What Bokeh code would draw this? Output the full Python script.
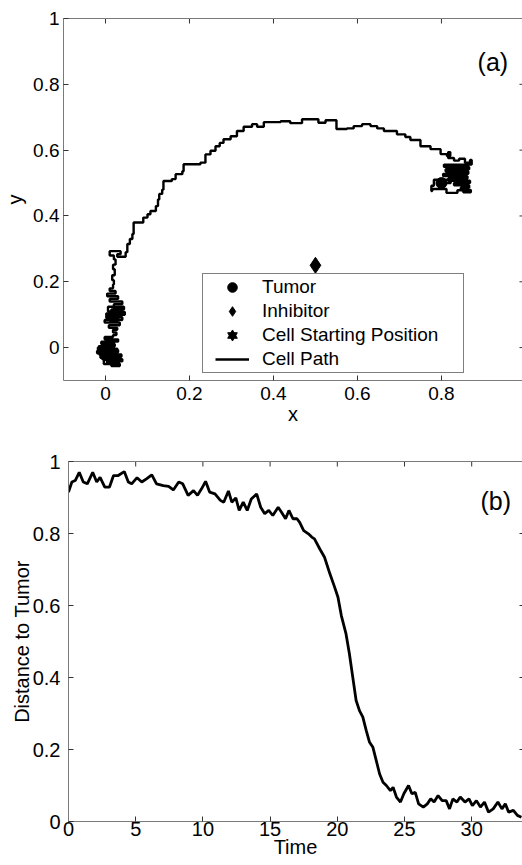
import math
from bokeh.plotting import figure
from bokeh.models import (LinearAxis, Label, Legend, LegendItem, FixedTicker,
                          Range1d)
from bokeh.embed import file_html
from bokeh.resources import INLINE

FONT = "Liberation Sans"

# ---------------- data: panel (a) ----------------
path_x = [0.000, -0.018, 0.030, -0.015, 0.038, -0.008, 0.040, 0.004, 0.034, 0.014,
          -0.004, 0.032, -0.012, 0.024, -0.020, 0.028, -0.016, 0.022, -0.010, 0.030,
          -0.002, 0.018, 0.026, 0.018, 0.028,
          0.008, 0.034, -0.002, 0.040, 0.004, 0.046, 0.014, 0.044, 0.006, 0.036,
          0.010, 0.030, 0.002, 0.040, 0.020, 0.040, 0.010, 0.030, 0.004, 0.024,
          0.010, 0.018,
          0.020, 0.016, 0.022, 0.018, 0.024, 0.020,
          0.010, 0.036, 0.028, 0.048, 0.052,
          0.058, 0.064, 0.067, 0.090, 0.100, 0.107, 0.120, 0.125, 0.128, 0.135,
          0.138, 0.158, 0.167, 0.183, 0.186, 0.226, 0.238, 0.250, 0.262, 0.272,
          0.281, 0.298, 0.313, 0.329, 0.349, 0.361, 0.377, 0.417, 0.440, 0.468,
          0.507, 0.524, 0.550, 0.575, 0.591, 0.611, 0.631, 0.647, 0.663, 0.694,
          0.714, 0.726, 0.750, 0.774, 0.798, 0.813, 0.821,
          0.816, 0.830, 0.842, 0.856, 0.868, 0.872, 0.806, 0.866, 0.810, 0.864,
          0.804, 0.862, 0.816, 0.868, 0.830, 0.866, 0.846, 0.870, 0.852, 0.838,
          0.812, 0.778, 0.776, 0.782, 0.818, 0.822, 0.800]
path_y = [0.000, -0.007, -0.014, -0.021, -0.028, -0.035, -0.042, -0.049, -0.056, -0.050,
          -0.038, -0.031, -0.024, -0.017, -0.010, -0.003, 0.004, 0.011, 0.018, 0.025,
          0.032, 0.038, 0.046, 0.054, 0.060,
          0.068, 0.076, 0.084, 0.092, 0.100, 0.108, 0.116, 0.124, 0.110, 0.096,
          0.082, 0.090, 0.104, 0.118, 0.132, 0.140, 0.148, 0.156, 0.164, 0.172,
          0.180, 0.192,
          0.205, 0.220, 0.238, 0.252, 0.268, 0.280,
          0.293, 0.284, 0.276, 0.290, 0.315,
          0.330, 0.345, 0.380, 0.395, 0.405, 0.415, 0.430, 0.450, 0.467, 0.480,
          0.506, 0.512, 0.527, 0.536, 0.557, 0.562, 0.587, 0.598, 0.612, 0.622,
          0.633, 0.642, 0.658, 0.671, 0.679, 0.671, 0.685, 0.688, 0.682, 0.694,
          0.683, 0.691, 0.664, 0.666, 0.673, 0.679, 0.673, 0.666, 0.658, 0.648,
          0.640, 0.631, 0.612, 0.603, 0.588, 0.582, 0.594,
          0.576, 0.568, 0.574, 0.562, 0.570, 0.556, 0.549, 0.542, 0.535, 0.528,
          0.521, 0.514, 0.507, 0.500, 0.493, 0.486, 0.479, 0.472, 0.478, 0.470,
          0.482, 0.476, 0.492, 0.510, 0.514, 0.500, 0.500]

tumor_x, tumor_y = [0.8], [0.5]
inhibitor_x, inhibitor_y = [0.5], [0.25]
start_x, start_y = [0.0], [0.0]

# ---------------- data: panel (b) ----------------
time = [0.0, 0.25, 0.5, 0.8, 1.1, 1.4, 1.8, 2.1, 2.35, 2.7, 3.05, 3.35, 3.7, 4.15,
        4.45, 4.7, 5.1, 5.45, 5.8, 6.2, 6.55, 7.05, 7.45, 7.8, 8.2, 8.5, 8.9, 9.3,
        9.6, 9.9, 10.2, 10.5, 10.9, 11.3, 11.55, 11.9, 12.15, 12.45, 12.7, 13.0,
        13.3, 13.6, 14.0, 14.3, 14.6, 14.9, 15.2, 15.6, 15.85, 16.15, 16.4, 16.7,
        17.0, 17.2, 17.5, 17.85, 18.1, 18.3, 18.7, 19.05, 19.45, 19.8, 20.05,
        20.3, 20.65, 20.9, 21.15, 21.4, 21.65, 21.9, 22.15, 22.4, 22.65, 22.9,
        23.15, 23.4, 23.65, 23.95, 24.15, 24.4, 24.7, 24.95, 25.3, 25.55, 25.8,
        26.05, 26.4, 26.7, 26.95, 27.2, 27.5, 27.8, 28.1, 28.35, 28.6, 28.9,
        29.15, 29.5, 29.8, 30.05, 30.35, 30.65, 30.95, 31.25, 31.6, 31.95, 32.25,
        32.5, 32.75, 33.1, 33.4, 33.7]
dist = [0.915, 0.943, 0.947, 0.970, 0.943, 0.938, 0.970, 0.943, 0.956, 0.929,
        0.929, 0.961, 0.961, 0.972, 0.943, 0.938, 0.955, 0.943, 0.952, 0.963,
        0.938, 0.933, 0.931, 0.921, 0.943, 0.938, 0.906, 0.919, 0.906, 0.924,
        0.945, 0.915, 0.910, 0.892, 0.887, 0.918, 0.887, 0.899, 0.864, 0.887,
        0.864, 0.896, 0.910, 0.873, 0.855, 0.864, 0.850, 0.873, 0.859, 0.841,
        0.864, 0.841, 0.841, 0.831, 0.808, 0.799, 0.790, 0.785, 0.757, 0.734,
        0.688, 0.651, 0.623, 0.572, 0.521, 0.466, 0.401, 0.336, 0.308, 0.290,
        0.253, 0.220, 0.206, 0.169, 0.132, 0.109, 0.100, 0.086, 0.095, 0.068,
        0.054, 0.077, 0.100, 0.077, 0.081, 0.049, 0.040, 0.049, 0.063, 0.054,
        0.072, 0.058, 0.058, 0.035, 0.063, 0.054, 0.068, 0.054, 0.063, 0.044,
        0.058, 0.040, 0.054, 0.026, 0.035, 0.054, 0.035, 0.049, 0.026, 0.031,
        0.017, 0.012]

xticks_a = [0, 0.2, 0.4, 0.6, 0.8, 1.0]
yticks_a = [0, 0.2, 0.4, 0.6, 0.8, 1.0]
xticks_b = [0, 5, 10, 15, 20, 25, 30]
yticks_b = [0, 0.2, 0.4, 0.6, 0.8, 1.0]

AXIS_COL = "#7a7a7a"
TICK_COL = "#333333"


def style_axes(p, xticks, yticks, tick_fs, ylab_standoff, xlab_standoff):
    for ax in p.xaxis + p.yaxis:
        ax.major_label_text_font = FONT
        ax.major_label_text_font_size = tick_fs
        ax.major_label_text_color = "black"
        ax.axis_label_text_font = FONT
        ax.axis_label_text_font_size = "20px"
        ax.axis_label_text_font_style = "normal"
        ax.axis_label_text_color = "black"
        ax.axis_line_color = AXIS_COL
        ax.major_tick_line_color = TICK_COL
        ax.major_tick_in = 5
        ax.major_tick_out = 0
        ax.minor_tick_line_color = None
        ax.major_label_overrides = {0: "0", 1: "1"}
    p.xaxis.ticker = FixedTicker(ticks=xticks)
    p.yaxis.ticker = FixedTicker(ticks=yticks)
    p.yaxis.major_label_standoff = ylab_standoff
    p.xaxis.major_label_standoff = xlab_standoff
    # top border line of the box (no ticks, no labels)
    top = LinearAxis(ticker=FixedTicker(ticks=[]))
    top.axis_line_color = AXIS_COL
    top.major_tick_out = 0
    top.major_tick_in = 0
    top.minor_tick_line_color = None
    p.add_layout(top, "above")
    # inward ticks on the top and right edges of the box
    x_end = p.x_range.end
    y_end = p.y_range.end
    p.scatter(xticks, [y_end] * len(xticks), marker="dash", angle=math.pi / 2,
              size=10, line_color=TICK_COL, line_width=1)
    p.scatter([x_end] * len(yticks), yticks, marker="dash", size=6,
              line_color=TICK_COL, line_width=1)
    p.xgrid.visible = False
    p.ygrid.visible = False
    p.outline_line_color = None


# ---------------- panel (a) ----------------
p1 = figure(width=522, height=432, x_range=Range1d(-0.1, 0.993),
            y_range=Range1d(-0.1, 1.0), output_backend="svg",
            toolbar_location=None, min_border_left=63, min_border_right=0,
            min_border_top=18, min_border_bottom=52)
p1.xaxis.axis_label = "x"
p1.yaxis.axis_label = "y"
style_axes(p1, xticks_a, yticks_a, "19px", 4, 6)
p1.xaxis.axis_label_standoff = 0
p1.yaxis.axis_label_standoff = 4

r_path = p1.step(path_x, path_y, mode="after", line_width=2.4,
                 line_color="black")
r_tumor = p1.scatter(tumor_x, tumor_y, marker="circle", size=11, color="black")
r_inhib = p1.scatter(inhibitor_x, inhibitor_y, marker="diamond", size=16,
                     color="black")
r_s1 = p1.scatter(start_x, start_y, marker="triangle", size=9, color="black")
r_s2 = p1.scatter(start_x, start_y, marker="inverted_triangle", size=9,
                  color="black")

legend = Legend(items=[
    LegendItem(label="Tumor", renderers=[r_tumor]),
    LegendItem(label="Inhibitor", renderers=[r_inhib]),
    LegendItem(label="Cell Starting Position", renderers=[r_s1, r_s2]),
    LegendItem(label="Cell Path", renderers=[r_path]),
], location=(139, 7))
legend.label_text_font = FONT
legend.label_text_font_size = "19px"
legend.label_text_color = "black"
legend.border_line_color = "black"
legend.border_line_width = 1
legend.background_fill_color = "white"
legend.background_fill_alpha = 1
legend.padding = dict(left=12, right=2, top=1, bottom=1)
legend.spacing = 0
legend.glyph_width = 34
legend.glyph_height = 24
legend.label_height = 24
legend.label_standoff = 13
legend.label_width = 199
legend.margin = 0
p1.add_layout(legend)

p1.add_layout(Label(x=0.886, y=0.867, text="(a)", text_baseline="middle",
                    text_font=FONT, text_font_size="25px", text_color="black"))

# ---------------- panel (b) ----------------
p2 = figure(width=522, height=433, x_range=Range1d(0, 33.78),
            y_range=Range1d(0, 1.0), output_backend="svg",
            toolbar_location=None, min_border_left=68, min_border_right=0,
            min_border_top=29, min_border_bottom=44)
p2.yaxis.axis_label = "Distance to Tumor"
p2.xaxis.axis_label = "Time"
style_axes(p2, xticks_b, yticks_b, "20px", 8, 0)
p2.yaxis.axis_label_standoff = -3
p2.xaxis.axis_label_standoff = -3
p2.line(time, dist, line_width=2.8, line_color="black")

p2.add_layout(Label(x=30.65, y=0.889, text="(b)", text_baseline="middle",
                    text_font=FONT, text_font_size="25px", text_color="black"))

open("out.html", "w").write(file_html([p1, p2], INLINE))
